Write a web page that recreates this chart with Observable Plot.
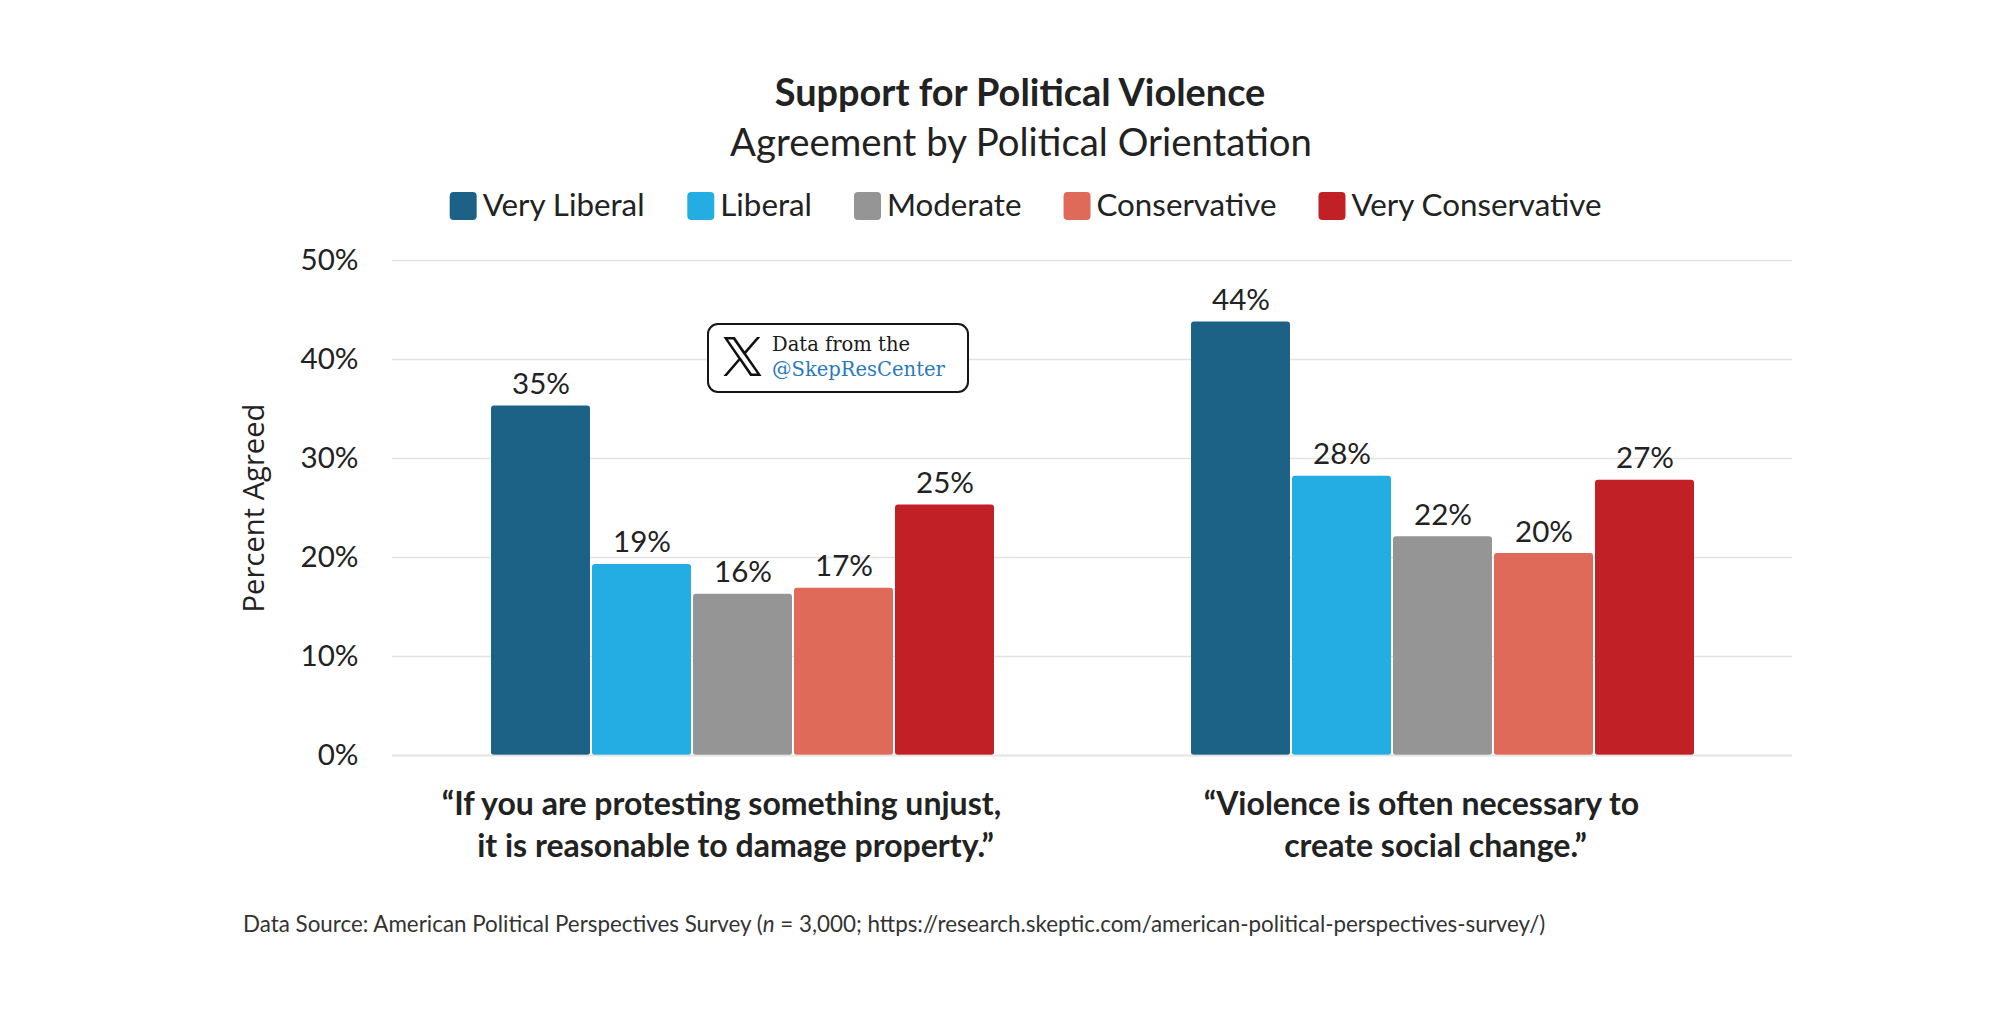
<!DOCTYPE html>
<html>
<head>
<meta charset="utf-8">
<script src="https://cdn.jsdelivr.net/npm/d3@7"></script>
<script src="https://cdn.jsdelivr.net/npm/@observablehq/plot@0.6"></script>
<style>
  html, body { margin: 0; padding: 0; background: #fff; }
  #page { position: relative; width: 2000px; height: 1025px; overflow: hidden; background: #fff; }
  #page > svg.bg { position: absolute; left: 0; top: 0; z-index: 0; }
  #chart { position: absolute; left: 0; top: 230px; z-index: 1; }
  #note { position: absolute; left: 707px; top: 323px; width: 258px; height: 66px; border: 2px solid #161616;
          border-radius: 11px; background: #fff; z-index: 2; box-sizing: content-box; }
  #note svg { position: absolute; left: 0; top: 0; }
</style>
</head>
<body>
<div id="page">
  <div id="chart"></div>
  <div id="note">
    <svg id="noteSvg" width="258" height="66">
      <svg x="14" y="12" width="39" height="39" viewBox="0 0 1200 1227"><path fill="#111" d="M714.163 519.284L1160.89 0H1055.03L667.137 450.887L357.328 0H0L468.492 681.821L0 1226.37H105.866L515.491 750.218L842.672 1226.37H1200L714.137 519.284H714.163ZM569.165 687.828L521.697 619.934L144.011 79.6944H306.615L611.412 515.685L658.88 583.579L1055.08 1150.3H892.476L569.165 687.854V687.828Z"/></svg>
    </svg>
  </div>
</div>
<script>
// ---- data ----
const orientations = ["Very Liberal", "Liberal", "Moderate", "Conservative", "Very Conservative"];
const colors = ["#1b6286", "#24ade2", "#959595", "#e06a5a", "#c02026"];
const questions = [
  "\u201CIf you are protesting something unjust,\nit is reasonable to damage property.\u201D",
  "\u201CViolence is often necessary to\ncreate social change.\u201D"
];
const damageValues = [35.3, 19.3, 16.3, 16.9, 25.3];
const damageLabels = ["35%", "19%", "16%", "17%", "25%"];
const violenceValues = [43.8, 28.2, 22.1, 20.4, 27.8];
const violenceLabels = ["44%", "28%", "22%", "20%", "27%"];
const yTicks = [0, 10, 20, 30, 40, 50];
const titleText = "Support for Political Violence";
const subtitleText = "Agreement by Political Orientation";
const yLabelText = "Percent Agreed";
const noteLines = ["Data from the", "@SkepResCenter"];

const rows = [
  ...orientations.map((o, i) => ({question: questions[0], orientation: o, value: damageValues[i], label: damageLabels[i]})),
  ...orientations.map((o, i) => ({question: questions[1], orientation: o, value: violenceValues[i], label: violenceLabels[i]}))
];

// ---- text fitting helper ----
const ctx = document.createElement("canvas").getContext("2d");
function fitSize(text, style, family, target) {
  ctx.font = `${style} 100px ${family}`;
  return 100 * target / ctx.measureText(text).width;
}
const SANS = "Lato";

const valueFs = fitSize("35%", "normal", SANS, 58);
const tickFs = fitSize("50%", "normal", SANS, 58);
const qFs = fitSize("\u201CIf you are protesting something unjust,", "bold", SANS, 561);

// ---- chart ----
const chart = Plot.plot({
  width: 2000,
  height: 655,
  marginLeft: 392,
  marginRight: 208,
  marginTop: 30,
  marginBottom: 130,
  style: {fontFamily: SANS, background: "transparent", color: "#222"},
  fx: {domain: questions, padding: 0, axis: null},
  x: {domain: orientations, paddingInner: 0.02, paddingOuter: 0.948, axis: null},
  y: {domain: [0, 50], axis: null},
  color: {domain: orientations, range: colors},
  marks: [
    Plot.ruleY(yTicks, {stroke: "#e3e3e3", strokeWidth: 1.5}),
    Plot.axisY({ticks: yTicks, tickFormat: d => d + "%", tickSize: 0, tickPadding: 34, fontSize: tickFs, label: null, fill: "#222"}),
    Plot.barY(rows, {fx: "question", x: "orientation", y: "value", fill: "orientation", rx: 3}),
    Plot.ruleY([0], {stroke: "#e6e6e6", strokeWidth: 2, strokeOpacity: 0.7}),
    Plot.text(rows, {fx: "question", x: "orientation", y: "value", text: "label", dy: -12, lineAnchor: "bottom", fontSize: valueFs, fill: "#222"}),
    Plot.text(questions, {fx: d => d, text: d => d.split("\n")[0], frameAnchor: "bottom", lineAnchor: "bottom", dy: 59, dx: -21,
      fontSize: qFs, fontWeight: "bold", fill: "#222"}),
    Plot.text(questions, {fx: d => d, text: d => d.split("\n")[1], frameAnchor: "bottom", lineAnchor: "bottom", dy: 101, dx: -7,
      fontSize: qFs, fontWeight: "bold", fill: "#222"})
  ]
});
document.getElementById("chart").appendChild(chart);

// ---- header, legend, y label, caption ----
const bg = d3.select("#page").insert("svg", ":first-child").attr("class", "bg")
  .attr("width", 2000).attr("height", 1025);

const titleFs = fitSize(titleText, "bold", SANS, 493);
bg.append("text").attr("x", 1020).attr("y", 106).attr("text-anchor", "middle")
  .attr("font-family", SANS).attr("font-weight", "bold").attr("font-size", titleFs).attr("fill", "#222").text(titleText);
const subFs = fitSize(subtitleText, "normal", SANS, 583);
bg.append("text").attr("x", 1021).attr("y", 156).attr("text-anchor", "middle")
  .attr("font-family", SANS).attr("font-size", subFs).attr("fill", "#222").text(subtitleText);

// legend
const legFs = fitSize("Very Conservative", "normal", SANS, 251);
ctx.font = `normal ${legFs}px ${SANS}`;
const sw = 27, gapIn = 6, gapOut = 42;
const widths = orientations.map(o => ctx.measureText(o).width);
const total = widths.reduce((a, w) => a + sw + gapIn + w, 0) + gapOut * (orientations.length - 1);
let lx = 1026 - total / 2;
const leg = bg.append("g");
orientations.forEach((o, i) => {
  leg.append("rect").attr("x", lx).attr("y", 192).attr("width", sw).attr("height", 28).attr("rx", 4).attr("fill", colors[i]);
  leg.append("text").attr("x", lx + sw + gapIn).attr("y", 216).attr("font-family", SANS).attr("font-size", legFs)
    .attr("fill", "#222").text(o);
  lx += sw + gapIn + widths[i] + gapOut;
});

// y label
const yFs = fitSize(yLabelText, "normal", "Open Sans", 209);
bg.append("text").attr("transform", "translate(253,508) rotate(-90)").attr("text-anchor", "middle")
  .attr("dominant-baseline", "central").attr("font-family", "Open Sans").attr("font-size", yFs).attr("fill", "#222").text(yLabelText);

// caption
const capA = "Data Source: American Political Perspectives Survey (";
const capN = "n";
const capB = " = 3,000; https://research.skeptic.com/american-political-perspectives-survey/)";
const capFs = fitSize(capA + capN + capB, "normal", SANS, 1305);
const cap = bg.append("text").attr("x", 243).attr("y", 932).attr("font-family", SANS).attr("font-size", capFs).attr("fill", "#333");
cap.append("tspan").text(capA);
cap.append("tspan").attr("font-style", "italic").text(capN);
cap.append("tspan").text(capB);

// note text
const SERIF = "DejaVu Serif";
const noteFs = fitSize(noteLines[1], "normal", SERIF, 173);
const ns = d3.select("#noteSvg");
ns.append("text").attr("x", 63).attr("y", 26).attr("font-family", SERIF).attr("font-size", noteFs).attr("fill", "#1a1a1a").text(noteLines[0]);
ns.append("text").attr("x", 63).attr("y", 51).attr("font-family", SERIF).attr("font-size", noteFs).attr("fill", "#2a7ab9").text(noteLines[1]);
</script>
</body>
</html>
